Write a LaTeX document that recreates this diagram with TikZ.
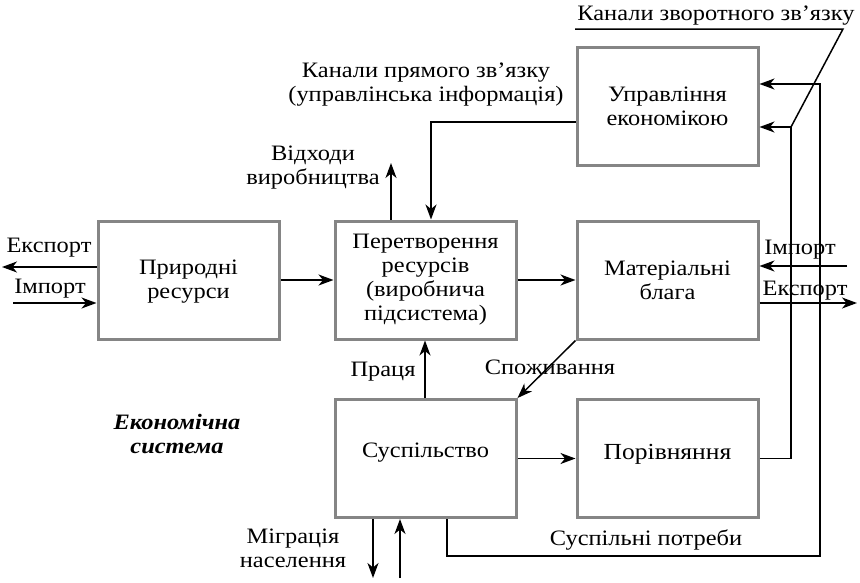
\documentclass[tikz,border=0pt]{standalone}
\usepackage{fontspec}
\setmainfont{Liberation Serif}[FakeStretch=1.11]
\usetikzlibrary{arrows.meta}
\definecolor{boxgray}{HTML}{858585}
\begin{document}
\begin{tikzpicture}[x=1pt,y=-1pt,
  box/.style={draw=boxgray,line width=3pt,minimum width=181pt,minimum height=118pt,inner sep=2pt,align=center,font=\fontsize{22}{24}\selectfont},
  lbl/.style={align=center,inner sep=0pt,yshift=-3pt,font=\fontsize{22}{24}\selectfont},
  conn/.style={line width=1.5pt},
  arr/.style={conn,-{Stealth[length=15pt,width=11pt,inset=4.5pt]}}]
\useasboundingbox (0,0) rectangle (860,582);
% boxes
\node[box] (upr) at (667.5,106) {Управління\\економікою};
\node[box,text depth=1pt] (prir) at (188.5,280) {Природні\\ресурси};
\node[box] (pere) at (425.5,280) {Перетворення\\ресурсів\\(виробнича\\підсистема)};
\node[box] (mat) at (667.5,280) {Матеріальні\\блага};
\node[box,text height=15pt,text depth=18pt] (susp) at (425.5,458.5) {Суспільство};
\node[box,font=\fontsize{23}{26}\selectfont,text height=16pt,text depth=15pt] (por) at (667.5,458.5) {Порівняння};
% labels
\node[lbl] (lzv) at (716,13) {Канали зворотного зв’язку};
\node[lbl] (lpr) at (426,82) {Канали прямого зв’язку\\(управлінська інформація)};
\node[lbl] (lvid) at (313,165) {Відходи\\виробництва};
\node[lbl] (lek1) at (49,245) {Експорт};
\node[lbl] (lim1) at (50,286) {Імпорт};
\node[lbl] (lim2) at (800,247) {Імпорт};
\node[lbl] (lek2) at (805,288) {Експорт};
\node[lbl] (lsp) at (550,364) {Споживання};
\node[lbl] (lpra) at (383,369) {Праця};
\node[lbl,yshift=3pt,font=\fontsize{22}{24}\selectfont\bfseries\itshape] (les) at (177,434) {Економічна\\система};
\node[lbl,yshift=3pt] (lmig) at (293,548) {Міграція\\населення};
\node[lbl] (lsup) at (646,537) {Суспільні потреби};
% coordinates
\coordinate (vid) at (391,163);
\coordinate (pk) at (431,122);
\coordinate (ek1) at (2,267);
\coordinate (im1) at (13,303);
\coordinate (im2) at (847,266);
\coordinate (ek2) at (857,303);
\coordinate (pra) at (425,339);
\coordinate (fb1) at (820,84);
\coordinate (fb2) at (791,127);
\coordinate (sp) at (447,556);
\coordinate (mg1) at (373,578);
\coordinate (mg2) at (400,578);
\coordinate (zl) at (575,29);
\coordinate (zr) at (843,29);
% connectors
\draw[arr] (prir.east) -- (pere.west);
\draw[arr] (pere.east) -- (mat.west);
\draw[arr] (pere.north -| vid) -- (vid);
\draw[arr] (upr.west |- pk) -- (pk) -- (pere.north -| pk);
\draw[arr] (prir.west |- ek1) -- (ek1);
\draw[arr] (im1) -- (prir.west |- im1);
\draw[arr] (im2) -- (mat.east |- im2);
\draw[arr] (mat.east |- ek2) -- (ek2);
\draw[arr] (mat.south west) -- (susp.north east);
\draw[arr] (susp.north -| pra) -- (pere.south -| pra);
\draw[arr] (susp.east) -- (por.west);
\draw[arr] (susp.south -| mg1) -- (mg1);
\draw[arr] (mg2) -- (susp.south -| mg2);
\draw[arr] (susp.south -| sp) -- (sp) -- (sp -| fb1) -- (fb1) -- (upr.east |- fb1);
\draw[arr] (por.east) -- (por.east -| fb2) -- (fb2) -- (upr.east |- fb2);
\draw[conn] (zl) -- (zr) -- (fb2);
\end{tikzpicture}
\end{document}
